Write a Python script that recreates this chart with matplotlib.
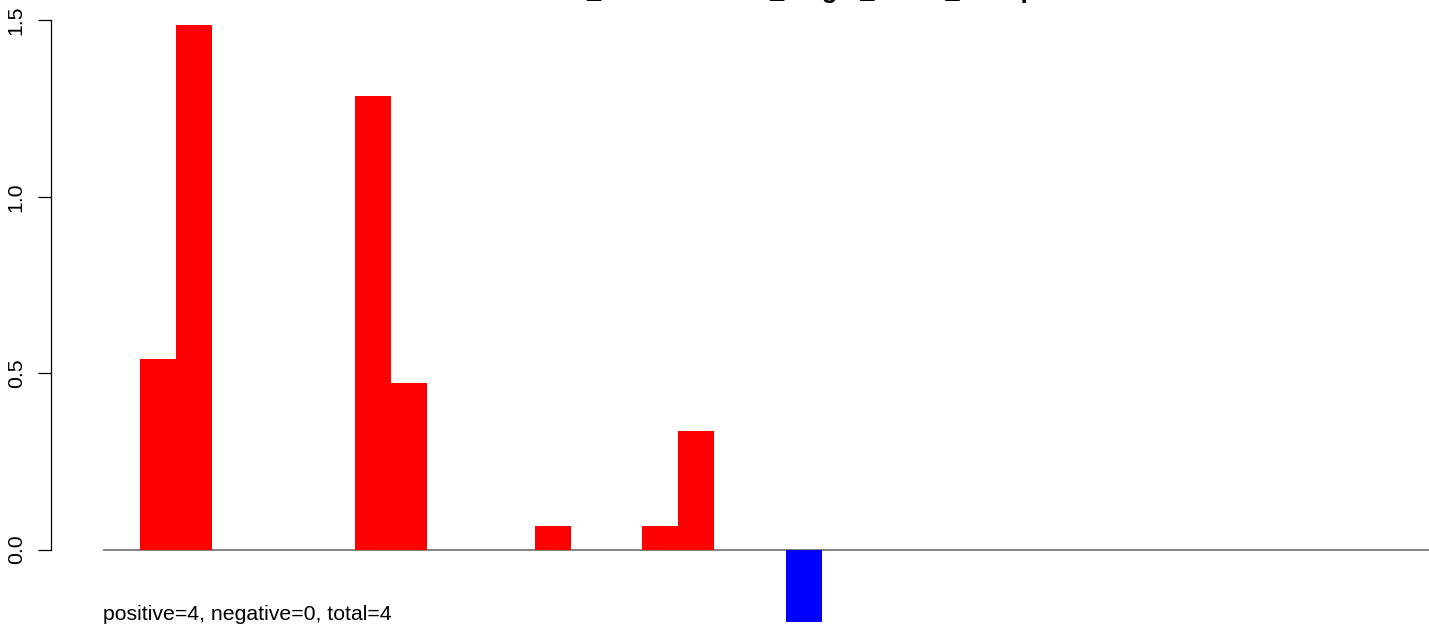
import numpy as np
import matplotlib.pyplot as plt

plt.rcParams['font.family'] = ['Liberation Sans', 'DejaVu Sans']

# bar values, one per slot (slot width = 1); zero slots are empty bars
bar_values = [0, 0.541, 1.487, 0, 0, 0, 0, 1.286, 0.472, 0, 0, 0, 0.067, 0, 0,
              0.067, 0.336, 0, 0, -0.204, 0, 0, 0, 0, 0, 0, 0, 0, 0, 0, 0, 0,
              0, 0, 0, 0, 0]
yticks = [0.0, 0.5, 1.0, 1.5]
ytick_labels = ['0.0', '0.5', '1.0', '1.5']
title = 'Results_CellTreatment_Target_Score_Group'
summary = 'positive=4, negative=0, total=4'

W, H = 1429, 626
fig = plt.figure(figsize=(W / 100, H / 100), dpi=100)
ax = fig.add_axes([103 / W, 0, 1 - 103 / W, 1])

vals = np.array(bar_values)
xs = np.arange(len(vals))
colors = ['#ff0000' if v >= 0 else '#0000ff' for v in vals]
ax.axhline(0, color='#6e6e6e', lw=1.2, zorder=1)
ax.bar(xs, vals, width=1, align='edge', color=colors, linewidth=0, zorder=2)

ax.set_xlim(-0.031, 36.92)
ax.set_ylim(-0.2163, 1.558)

for s in ['top', 'right', 'bottom']:
    ax.spines[s].set_visible(False)
ax.spines['left'].set_position(('outward', 37.7))
ax.spines['left'].set_bounds(0, 1.5)
ax.spines['left'].set_linewidth(0.9)
ax.set_xticks([])
ax.set_yticks(yticks)
ax.set_yticklabels(ytick_labels, rotation=90, va='center', fontsize=15.3)
ax.tick_params(axis='y', length=9.4, width=0.9, pad=8.5)
ax.patch.set_visible(False)

fig.text(766 / W, 1 + 2 / H, title, ha='center', va='baseline',
         fontsize=18.4, fontweight='bold')
fig.text(103 / W, 1 - 620 / H, summary, ha='left', va='baseline', fontsize=15.3)

fig.savefig('out.png', dpi=100)
